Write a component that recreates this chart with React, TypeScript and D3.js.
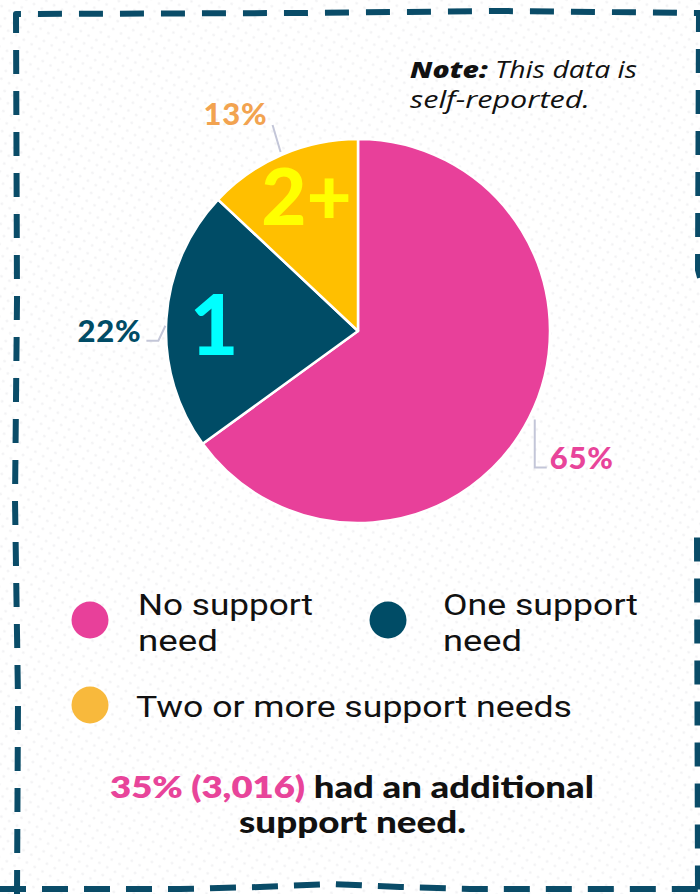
import React from "react";
import * as d3 from "d3";

const categories = ["No support need", "One support need", "Two or more support needs"];
const values = [65, 22, 13];
const sliceLabels = ["65%", "22%", "13%"];
const sliceGlyphs = ["", "1", "2+"];
const legendLines = [["No support", "need"], ["One support", "need"], ["Two or more support needs"]];
const noteBold = "Note:";
const noteLines = [" This data is", "self-reported."];
const summaryHighlight = "35% (3,016)";
const summaryLines = [" had an additional", "support need."];

const W = 700;
const H = 894;
const sliceColors = ["#E8409A", "#004C66", "#FFBF00"];
const labelColors = ["#E8449A", "#004C66", "#F2A350"];
const legendColors = ["#E8409A", "#004C66", "#F8B93C"];
const glyphColors = ["", "#00FFFF", "#FFFF00"];
const leaderColor = "#C3C6D8";
const borderColor = "#0A4C68";
const FONT_BOLD = "Lato, 'Open Sans', sans-serif";
const FONT_TEXT = "'Open Sans', 'Noto Sans', sans-serif";
const FONT_LEGEND = "Roboto, 'Open Sans', sans-serif";

const cx = 358;
const cy = 331;
const R = 192;

// measured text extents (layout only)
const legendWidths = [[175, 80], [195, 79], [436]];

export default function App() {
  const pie = d3.pie<number>().sort(null).value((d) => d)(values);
  const arc = d3.arc<d3.PieArcDatum<number>>().innerRadius(0).outerRadius(R);
  const glyphArc = d3.arc<d3.PieArcDatum<number>>().innerRadius(R * 0.5).outerRadius(R * 0.98);

  const polar = (a: number, r: number): [number, number] => [Math.sin(a) * r, -Math.cos(a) * r];

  const leaders = pie.map((d, i) => {
    const mid = (d.startAngle + d.endAngle) / 2;
    const p0 = polar(mid, R + 3);
    let pts: [number, number][];
    let anchor: "start" | "end";
    if (i === 0) {
      const x = p0[0] + 3;
      pts = [[x, p0[1]], [x, p0[1] + 48], [x + 12, p0[1] + 48]];
      anchor = "start";
    } else if (i === 1) {
      pts = [[p0[0] + 2, p0[1] + 7], [p0[0] - 5, p0[1] + 22], [p0[0] - 17, p0[1] + 22]];
      anchor = "end";
    } else {
      pts = [p0, [p0[0] - 8, p0[1] - 27]];
      anchor = "end";
    }
    const end = pts[pts.length - 1];
    return { pts, anchor, end };
  });

  const borderPath =
    "M17,894 L18,700 L15,500 L17,300 L16,14 L300,13 L500,11 L699,13 L698,270 L706,300 L706,520 L697,535 L698,894";
  const bottomPath = "M0,889 L180,889 L260,887 L330,884 L400,887 L470,889 L700,889";

  return (
    <svg width={W} height={H} style={{ position: "absolute", left: 0, top: 0, background: "#fff" }}>
      <defs>
        <pattern id="dots" width="9" height="9" patternUnits="userSpaceOnUse" patternTransform="rotate(30)">
          <circle cx="4.5" cy="4.5" r="1.3" fill="#f1f1f3" />
        </pattern>
      </defs>
      <rect x={0} y={0} width={W} height={H} fill="#fff" />
      <rect x={0} y={0} width={W} height={H} fill="url(#dots)" />

      <path d={borderPath} fill="none" stroke={borderColor} strokeWidth={6} strokeDasharray="24 17" strokeLinejoin="round" />
      <path d={bottomPath} fill="none" stroke={borderColor} strokeWidth={6} strokeDasharray="26 16" />

      {/* Note */}
      <text x={410} y={78} fontFamily={FONT_TEXT} fontSize={23} fontStyle="italic" fill="#111" textLength={227} lengthAdjust="spacingAndGlyphs">
        <tspan fontWeight={800}>{noteBold}</tspan>
        <tspan>{noteLines[0]}</tspan>
      </text>
      <text x={410} y={108} fontFamily={FONT_TEXT} fontSize={23} fontStyle="italic" fill="#111" textLength={180} lengthAdjust="spacingAndGlyphs">
        {noteLines[1]}
      </text>

      <g transform={`translate(${cx},${cy})`}>
        {pie.map((d, i) => (
          <path key={i} d={arc(d) || ""} fill={sliceColors[i]} stroke="#fff" strokeWidth={2.5} strokeLinejoin="round" />
        ))}
        {pie.map((d, i) => {
          if (!sliceGlyphs[i]) return null;
          const [gx, gy] = glyphArc.centroid(d);
          return (
            <text
              key={"g" + i}
              x={gx + (i === 2 ? 5 : -2)}
              y={gy + (i === 2 ? -6 : 0)}
              textAnchor="middle"
              dominantBaseline="central"
              fontFamily={FONT_BOLD}
              fontWeight={900}
              fontSize={i === 1 ? 84 : 78}
              fill={glyphColors[i]}
            >
              {sliceGlyphs[i]}
            </text>
          );
        })}
        {leaders.map((l, i) => (
          <g key={"l" + i}>
            <polyline points={l.pts.map((p) => p.join(",")).join(" ")} fill="none" stroke={leaderColor} strokeWidth={2} />
            <text
              x={l.end[0] + (l.anchor === "start" ? 3 : -5)}
              y={l.end[1] + (i === 2 ? 0 : 1)}
              textAnchor={l.anchor}
              fontFamily={FONT_BOLD}
              fontWeight={900}
              fontSize={31}
              letterSpacing={0.8}
              fill={labelColors[i]}
            >
              {sliceLabels[i]}
            </text>
          </g>
        ))}
      </g>

      {/* Legend */}
      {categories.map((c, i) => {
        const col = i === 1 ? 1 : 0;
        const row = i === 2 ? 1 : 0;
        const mx = col === 0 ? 90 : 388;
        const my = row === 0 ? 620 : 705;
        const tx = col === 0 ? (row === 0 ? 138 : 136) : 443;
        const lines = legendLines[i];
        return (
          <g key={c}>
            <circle cx={mx} cy={my} r={18.5} fill={legendColors[i]} />
            <text fontFamily={FONT_LEGEND} fontSize={30} fill="#111">
              {lines.map((ln, j) => (
                <tspan
                  key={j}
                  x={tx}
                  y={lines.length === 1 ? my + 12 : my - 5 + j * 36}
                  textLength={legendWidths[i][j]}
                  lengthAdjust="spacingAndGlyphs"
                >
                  {ln}
                </tspan>
              ))}
            </text>
          </g>
        );
      })}

      {/* Summary */}
      <text x={110} y={798} fontFamily={FONT_BOLD} fontWeight={900} fontSize={31} fill="#111" textLength={484} lengthAdjust="spacingAndGlyphs">
        <tspan fill="#E8449A" fontWeight={800}>{summaryHighlight}</tspan>
        <tspan>{summaryLines[0]}</tspan>
      </text>
      <text x={239} y={833} fontFamily={FONT_BOLD} fontWeight={900} fontSize={31} fill="#111" textLength={227} lengthAdjust="spacingAndGlyphs">
        {summaryLines[1]}
      </text>
    </svg>
  );
}
